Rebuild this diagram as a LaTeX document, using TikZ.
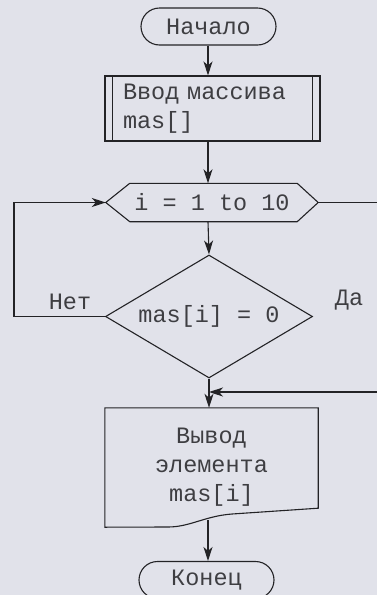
\documentclass[tikz,border=0pt]{standalone}
\usepackage{fontspec}
\setmainfont{Liberation Mono}
\usetikzlibrary{shapes.misc,shapes.geometric,arrows.meta}
\definecolor{paper}{RGB}{225,226,234}
\definecolor{ink}{RGB}{35,35,38}
\definecolor{letter}{RGB}{62,62,66}
\begin{document}
\begin{tikzpicture}[x=1pt,y=-1pt,
  every node/.style={font=\fontsize{23.5}{29}\selectfont, text=letter},
  line/.style={draw=ink, line width=1.1pt},
  flow/.style={line, -{Stealth[length=14pt,width=9pt,inset=4pt]}},
  term/.style={line, rounded rectangle, minimum width=135pt, minimum height=37pt, inner sep=0pt},
  iobox/.style={line, rectangle, minimum width=215pt, minimum height=65pt,
    inner xsep=18pt, inner ysep=0pt, text width=179pt, align=left},
  hexbox/.style={rectangle, minimum width=212pt, minimum height=38pt, inner sep=0pt},
  cond/.style={line, diamond, aspect=1.68, minimum width=207pt, minimum height=123pt, inner sep=0pt},
  docbox/.style={rectangle, minimum width=213pt, minimum height=119pt, inner sep=0pt, align=center},
  tag/.style={inner sep=0pt}]
\useasboundingbox (0,0) rectangle (377,595);
\fill[paper] (0,0) rectangle (377,595);

% blocks
\node[term] (start) at (208.5,26.5) {Начало};
\node[iobox] (in) at (212.5,108.5) {Ввод массива\\mas[]};
\draw[line] ([xshift=8pt]in.north west) -- ([xshift=8pt]in.south west)
            ([xshift=-8pt]in.north east) -- ([xshift=-8pt]in.south east);

\node[hexbox] (loop) at (212,202.5) {i = 1 to 10};
\draw[line] (loop.west) -- ([xshift=24pt]loop.north west) -- ([xshift=-21pt]loop.north east)
  -- (loop.east) -- ([xshift=-21pt]loop.south east) -- ([xshift=24pt]loop.south west) -- cycle;

\node[cond] (test) at (209,316.5) {mas[i] = 0};

\node[docbox] (out) at (211.5,467.5) {Вывод\\элемента\\mas[i]};
\draw[line] (out.south west) -- (out.north west) -- (out.north east) -- ([yshift=19pt]out.south east)
  -- (232,514) .. controls (205,516) and (190,527) .. (168,527) -- cycle;

\node[term] (fin) at (206.5,580) {Конец};

% branch labels
\node[tag] (no) at (70,302) {Нет};
\node[tag] (yes) at (349,300) {Да};

% connectors
\coordinate (exitR) at (377,202.5);
\coordinate (backR) at (377,392);
\coordinate (outB) at (208,520);
\draw[flow] (start.south -| outB) -- (in.north -| outB);
\draw[flow] (in.south -| outB) -- (loop.north -| outB);
\draw[flow] (loop.south -| outB) -- (test.north);
\draw[flow] (test.west) -- ++(-91,0) |- (loop.west);
\draw[line] (loop.east) -- (exitR);
\draw[flow] (test.south) -- (out.north -| test.south);
\draw[flow] (backR) -- (backR -| test.south);
\draw[flow] (outB) -- (fin.north -| outB);
\end{tikzpicture}
\end{document}
